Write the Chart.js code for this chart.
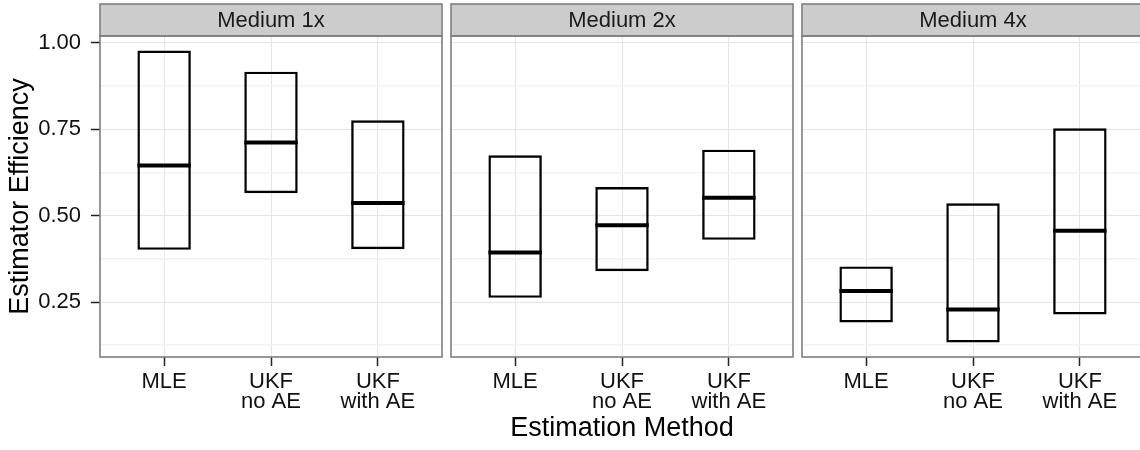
<!DOCTYPE html>
<html>
<head>
<meta charset="utf-8">
<title>Estimator Efficiency</title>
<script src="https://cdn.jsdelivr.net/npm/chart.js@4.4.0/dist/chart.umd.min.js"></script>
<style>
  html, body { margin: 0; padding: 0; background: #fff; overflow: hidden; }
  #wrap { position: relative; width: 1140px; height: 450px; overflow: hidden; }
  #wrap canvas { position: absolute; left: 0; top: 0; }
</style>
</head>
<body>
<div id="wrap">
  <canvas id="panel_1x" width="1150" height="450"></canvas>
  <canvas id="panel_2x" width="1150" height="450"></canvas>
  <canvas id="panel_4x" width="1150" height="450"></canvas>
</div>
<script>
var FONT = '"Liberation Sans", Arial, Helvetica, sans-serif';

var panelNames = ['Medium 1x', 'Medium 2x', 'Medium 4x'];
var methods = [['MLE'], ['UKF', 'no AE'], ['UKF', 'with AE']];
var methodPos = [1, 2, 3];

// crossbars: bottom, middle line, top
var lower1x = [0.401, 0.565, 0.403];
var middle1x = [0.645, 0.712, 0.537];
var upper1x = [0.978, 0.917, 0.776];

var lower2x = [0.262, 0.339, 0.430];
var middle2x = [0.393, 0.472, 0.552];
var upper2x = [0.675, 0.583, 0.691];

var lower4x = [0.191, 0.133, 0.214];
var middle4x = [0.282, 0.228, 0.456];
var upper4x = [0.353, 0.536, 0.753];

var yMajor = [0.25, 0.5, 0.75, 1.0];
var yMinor = [0.125, 0.375, 0.625, 0.875];
var yTickLabels = ['0.25', '0.50', '0.75', '1.00'];

var boxWidth = 0.5;

// shared y range, padded 5% like ggplot
var allLow = Math.min.apply(null, lower1x.concat(lower2x, lower4x));
var allHigh = Math.max.apply(null, upper1x.concat(upper2x, upper4x));
var yPad = (allHigh - allLow) * 0.05;
var yMin = allLow - yPad;
var yMax = allHigh + yPad;

function isMajor(c) {
    return c.tick && yMajor.indexOf(c.tick.value) >= 0;
}

function halfBox(c) {
    var x = c.chart.scales.x;
    return x.getPixelForValue(1 + boxWidth / 2) - x.getPixelForValue(1);
}

// grey strip with facet name + panel border
var stripPlugin = {
    id: 'strip',
    afterDraw: function (chart, args, opts) {
        var a = chart.chartArea, ctx = chart.ctx;
        var w = a.right - a.left;
        ctx.save();
        ctx.fillStyle = '#cccccc';
        ctx.fillRect(a.left, 4, w, a.top - 4);
        ctx.strokeStyle = '#7f7f7f';
        ctx.lineWidth = 1.6;
        ctx.strokeRect(a.left, 4, w, a.top - 4);
        ctx.strokeRect(a.left, a.top, w, a.bottom - a.top);
        ctx.fillStyle = '#1a1a1a';
        ctx.font = '22px ' + FONT;
        ctx.textAlign = 'center';
        ctx.textBaseline = 'middle';
        ctx.fillText(opts.text, (a.left + a.right) / 2, (4 + a.top) / 2 + 0.5);
        ctx.restore();
    }
};

function makePanel(canvasId, name, lower, middle, upper, padLeft, padRight, first, xTitle) {
    var ctx = document.getElementById(canvasId).getContext('2d');
    return new Chart(ctx, {
        type: 'bar',
        plugins: [stripPlugin],
        data: {
            datasets: [
                {
                    type: 'line',
                    data: methodPos.map(function (x, i) { return {x: x, y: middle[i]}; }),
                    showLine: false,
                    pointStyle: 'line',
                    pointRadius: halfBox,
                    pointHoverRadius: halfBox,
                    pointBorderWidth: 4,
                    pointBorderColor: '#000',
                    pointBackgroundColor: '#000'
                },
                {
                    data: methodPos.map(function (x, i) { return {x: x, y: [lower[i], upper[i]]}; }),
                    backgroundColor: 'rgba(0,0,0,0)',
                    borderColor: '#000',
                    borderWidth: 2.4,
                    borderSkipped: false,
                    barPercentage: boxWidth,
                    categoryPercentage: 1
                }
            ]
        },
        options: {
            responsive: false,
            animation: false,
            events: [],
            layout: {
                padding: {left: padLeft, right: padRight, top: 36, bottom: 0}
            },
            plugins: {
                legend: {display: false},
                tooltip: {enabled: false},
                strip: {text: name}
            },
            scales: {
                x: {
                    type: 'linear',
                    min: 0.4,
                    max: 3.6,
                    offset: false,
                    afterBuildTicks: function (s) {
                        s.ticks = methodPos.map(function (v) { return {value: v}; });
                    },
                    afterFit: function (s) { s.height = 93; },
                    border: {display: false},
                    grid: {
                        offset: false,
                        color: '#e5e5e5',
                        lineWidth: 1,
                        tickColor: '#222',
                        tickLength: 9,
                        tickWidth: 1.5
                    },
                    ticks: {
                        autoSkip: false,
                        maxRotation: 0,
                        padding: 6,
                        color: '#111',
                        font: {family: FONT, size: 22, lineHeight: 0.9},
                        callback: function (v) { return methods[methodPos.indexOf(v)]; }
                    },
                    title: {
                        display: xTitle,
                        text: 'Estimation Method',
                        color: '#000',
                        font: {family: FONT, size: 27, lineHeight: 1},
                        padding: {top: 0, bottom: 8}
                    }
                },
                y: {
                    min: yMin,
                    max: yMax,
                    afterBuildTicks: function (s) {
                        s.ticks = yMinor.concat(yMajor).sort(function (a, b) { return a - b; })
                            .map(function (v) { return {value: v}; });
                    },
                    afterFit: function (s) { s.width = first ? 100 : 0; },
                    border: {display: false},
                    grid: {
                        color: function (c) { return isMajor(c) ? '#e5e5e5' : '#f2f2f2'; },
                        lineWidth: function (c) { return isMajor(c) ? 1 : 1.5; },
                        drawTicks: first,
                        tickColor: function (c) { return isMajor(c) ? '#222' : 'rgba(0,0,0,0)'; },
                        tickLength: 9,
                        tickWidth: 1.5
                    },
                    ticks: {
                        display: first,
                        padding: 10,
                        color: '#111',
                        font: {family: FONT, size: 22},
                        callback: function (v) {
                            var k = yMajor.indexOf(v);
                            return k >= 0 ? yTickLabels[k] : '';
                        }
                    },
                    title: {
                        display: first,
                        text: 'Estimator Efficiency',
                        color: '#000',
                        font: {family: FONT, size: 27, lineHeight: 1},
                        padding: {top: 7, bottom: 0}
                    }
                }
            }
        }
    });
}

makePanel('panel_1x', panelNames[0], lower1x, middle1x, upper1x, 0, 708, true, false);
makePanel('panel_2x', panelNames[1], lower2x, middle2x, upper2x, 451, 357, false, true);
makePanel('panel_4x', panelNames[2], lower4x, middle4x, upper4x, 802, 6, false, false);
</script>
</body>
</html>
